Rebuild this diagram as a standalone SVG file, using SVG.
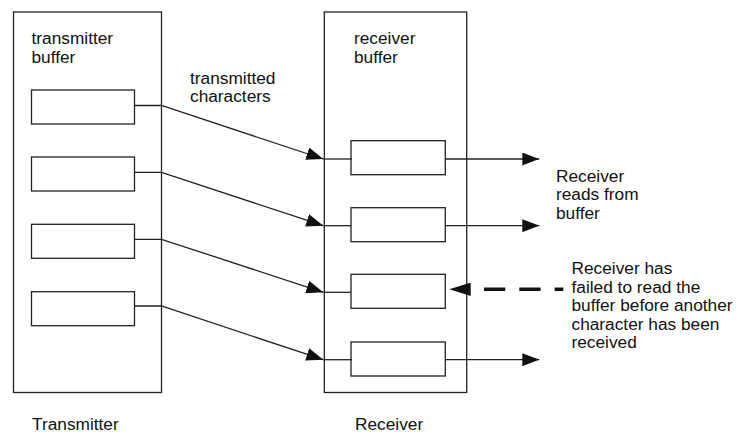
<svg xmlns="http://www.w3.org/2000/svg" width="740" height="434" viewBox="0 0 740 434">
  <style>
    .frame { fill: #ffffff; stroke: #222222; stroke-width: 1.3; }
    .cell { fill: #ffffff; stroke: #222222; stroke-width: 1.3; }
    .wire { fill: none; stroke: #222222; stroke-width: 1.3; }
    .dash { fill: none; stroke: #111111; stroke-width: 3.6; stroke-dasharray: 21.3 14; stroke-dashoffset: 22; }
    .label { font-family: "Liberation Sans", Arial, sans-serif; font-size: 17.3px; fill: #111111; }
  </style>
  <defs>
    <marker id="arrow" markerUnits="userSpaceOnUse" viewBox="0 0 17 13" markerWidth="17" markerHeight="13" refX="17" refY="6.5" orient="auto">
      <path d="M0,0 L17,6.5 L0,13 Z" fill="#111111"/>
    </marker>
    <marker id="arrowBig" markerUnits="userSpaceOnUse" viewBox="0 0 21.4 13.4" markerWidth="21.4" markerHeight="13.4" refX="0" refY="6.7" orient="auto-start-reverse">
      <path d="M0,0 L21.4,6.7 L0,13.4 Z" fill="#111111"/>
    </marker>
  </defs>

  <!-- transmitter side -->
  <g id="transmitter">
    <rect class="frame" x="13.5" y="12" width="148" height="380.5"/>
    <text class="label" x="31.5" y="43.5">transmitter</text>
    <text class="label" x="31.5" y="62.5">buffer</text>
    <text class="label" x="32" y="430">Transmitter</text>
  </g>
  <g id="tx-cell-1"><rect class="cell" x="31.5" y="90" width="103" height="34"/></g>
  <g id="tx-cell-2"><rect class="cell" x="31.5" y="157" width="103" height="34"/></g>
  <g id="tx-cell-3"><rect class="cell" x="31.5" y="224.3" width="103" height="34"/></g>
  <g id="tx-cell-4"><rect class="cell" x="31.5" y="291.7" width="103" height="34"/></g>

  <!-- receiver side -->
  <g id="receiver">
    <rect class="frame" x="324.3" y="12" width="142.4" height="380.5"/>
    <text class="label" x="354" y="43.5">receiver</text>
    <text class="label" x="354" y="62.5">buffer</text>
    <text class="label" x="355" y="430">Receiver</text>
  </g>
  <g id="rx-cell-1"><rect class="cell" x="351" y="140.7" width="94.3" height="34"/></g>
  <g id="rx-cell-2"><rect class="cell" x="351" y="207.7" width="94.3" height="34"/></g>
  <g id="rx-cell-3"><rect class="cell" x="351" y="274.3" width="94.3" height="34"/></g>
  <g id="rx-cell-4"><rect class="cell" x="351" y="342" width="94.3" height="34"/></g>

  <!-- annotations -->
  <g id="note-transmitted">
    <text class="label" x="190" y="83.5">transmitted</text>
    <text class="label" x="190" y="102">characters</text>
  </g>
  <g id="note-reads">
    <text class="label" x="556" y="181.7">Receiver</text>
    <text class="label" x="556" y="200.2">reads from</text>
    <text class="label" x="556" y="218.7">buffer</text>
  </g>
  <g id="note-overrun">
    <text class="label" x="571.5" y="274">Receiver has</text>
    <text class="label" x="571.5" y="292.5">failed to read the</text>
    <text class="label" x="571.5" y="311">buffer before another</text>
    <text class="label" x="571.5" y="329.5">character has been</text>
    <text class="label" x="571.5" y="348">received</text>
  </g>

  <!-- connectors -->
  <g id="connectors">
    <!-- transmitted characters -->
    <polyline class="wire" points="134.5,105.5 161.5,105.5 323.3,159" marker-end="url(#arrow)"/>
    <line class="wire" x1="323.3" y1="159" x2="352" y2="159"/>
    <polyline class="wire" points="134.5,172.3 161.5,172.3 323.3,225.7" marker-end="url(#arrow)"/>
    <line class="wire" x1="323.3" y1="225.7" x2="351" y2="225.7"/>
    <polyline class="wire" points="134.5,239.3 161.5,239.3 323.3,292.3" marker-end="url(#arrow)"/>
    <line class="wire" x1="323.3" y1="292.3" x2="351" y2="292.3"/>
    <polyline class="wire" points="134.5,306 161.5,306 323.3,359.7" marker-end="url(#arrow)"/>
    <line class="wire" x1="323.3" y1="359.7" x2="352" y2="359.7"/>

    <!-- reads out of the receiver buffer -->
    <line class="wire" x1="445.3" y1="159" x2="539.3" y2="159" marker-end="url(#arrow)"/>
    <line class="wire" x1="445.3" y1="225.7" x2="539.3" y2="225.7" marker-end="url(#arrow)"/>
    <line class="wire" x1="445.3" y1="359.7" x2="539.3" y2="359.7" marker-end="url(#arrow)"/>

    <!-- overrun: character not read -->
    <line class="dash" x1="470.7" y1="289.3" x2="563.3" y2="289.3" marker-start="url(#arrowBig)"/>
  </g>
</svg>
